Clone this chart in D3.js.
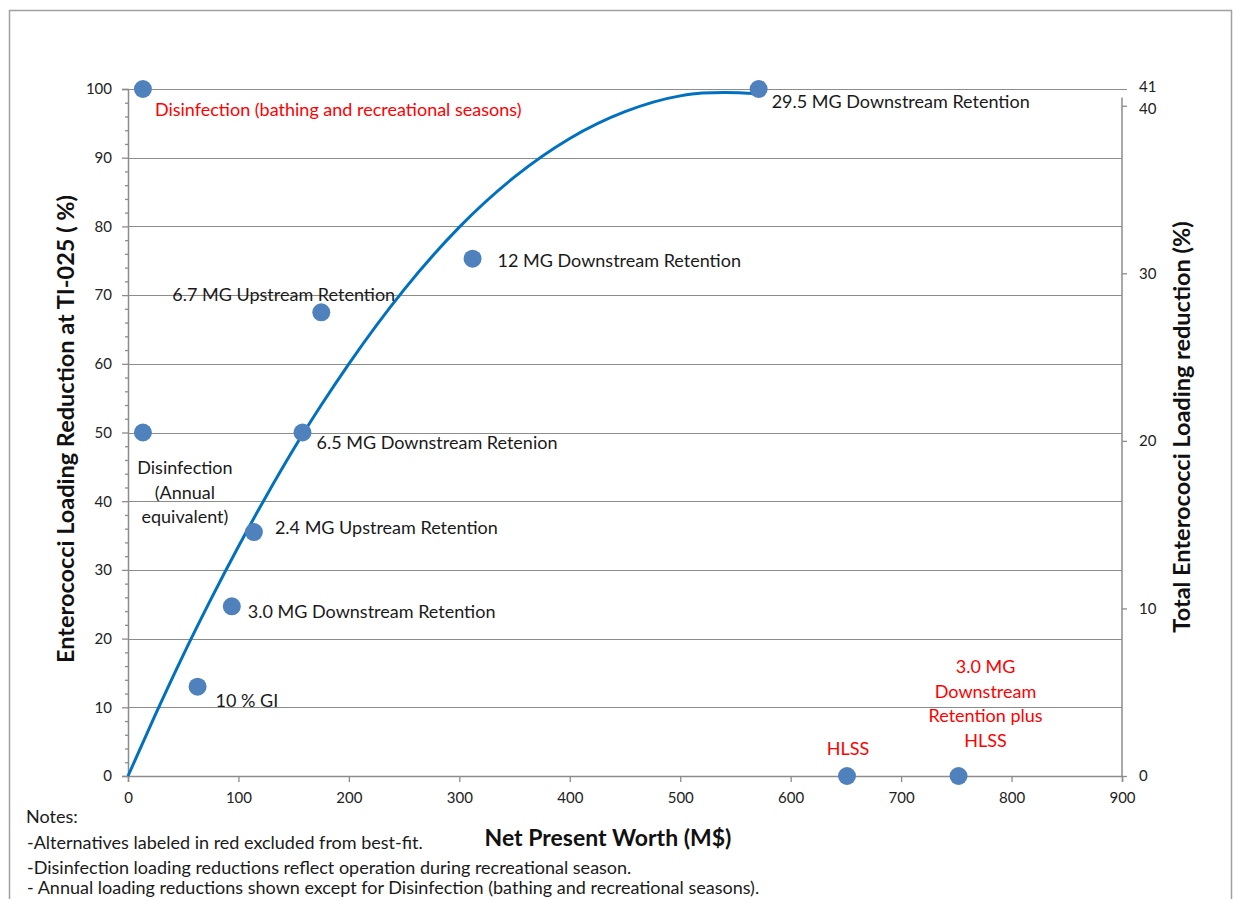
<!DOCTYPE html>
<html><head><meta charset="utf-8">
<script src="https://cdn.jsdelivr.net/npm/d3@7"></script>
<style>
body{margin:0;background:#fff;}
text{font-family:Lato, "Open Sans", sans-serif;}
</style></head>
<body><svg id="c" width="1241" height="899"></svg>
<script>
// ---- data ----
const pointNames = ["Disinfection (bathing  and recreational seasons)", "Disinfection (Annual equivalent)", "10 % GI", "3.0 MG Downstream Retention", "2.4 MG Upstream Retention", "6.5 MG Downstream Retenion", "6.7 MG Upstream Retention", "12 MG Downstream Retention", "29.5 MG Downstream Retention", "HLSS", "3.0 MG Downstream Retention plus HLSS"];
const pointX = [13.5, 13.5, 63, 94, 114, 158, 175, 312, 571, 651, 752];
const pointY = [100, 50, 13, 24.7, 35.5, 50, 67.5, 75.3, 100, 0, 0];
const excluded = [true, false, false, false, false, false, false, false, false, true, true];
// best-fit curve
const fitX = [0, 25, 50, 75, 100, 125, 150, 175, 200, 250, 300, 350, 400, 450, 500, 520, 540, 571];
const fitY = [0, 9.0, 17.6, 25.7, 33.4, 40.7, 47.6, 54.0, 60.0, 70.8, 79.9, 87.2, 92.8, 96.7, 99.0, 99.4, 99.5, 99.3];
const xTicks = [0, 100, 200, 300, 400, 500, 600, 700, 800, 900];
const yTicks = [0, 10, 20, 30, 40, 50, 60, 70, 80, 90, 100];
const y2Ticks = [0, 10, 20, 30, 40, 41];
const notes = ["Notes:", "-Alternatives labeled in red excluded from best-fit.", "-Disinfection loading reductions reflect operation during recreational season.", "- Annual loading reductions shown except for Disinfection (bathing and recreational seasons)."];

const svg = d3.select("#c");
const L = 128, R = 1122, T = 89, B = 776;
const x = d3.scaleLinear().domain([0, 900]).range([L, R]);
const y = d3.scaleLinear().domain([0, 100]).range([B, T]);
const y2 = d3.scaleLinear().domain([0, 41]).range([B, T]);
const grid = "#8c8c8c", tc = "#222";

// frame
svg.append("rect").attr("x", 9.5).attr("y", 10.5).attr("width", 1222).attr("height", 900)
  .attr("fill", "none").attr("stroke", "#a0a0a0").attr("stroke-width", 1.5);

// gridlines
svg.append("g").selectAll("line").data(yTicks.filter(d => d > 0)).join("line")
  .attr("x1", L).attr("x2", d => d === 100 ? R + 5 : R)
  .attr("y1", d => Math.round(y(d)) + 0.5).attr("y2", d => Math.round(y(d)) + 0.5)
  .attr("stroke", grid).attr("stroke-width", 1.2);

// left axis
const la = svg.append("g").attr("transform", `translate(${L},0)`)
  .call(d3.axisLeft(y).tickValues(yTicks).tickSize(6).tickPadding(10));
const lminor = svg.append("g").attr("transform", `translate(${L},0)`)
  .call(d3.axisLeft(y).tickValues(d3.range(0, 101, 2).filter(d => d % 10)).tickSize(3).tickFormat(""));
// bottom axis
const ba = svg.append("g").attr("transform", `translate(0,${B})`)
  .call(d3.axisBottom(x).tickValues(xTicks).tickSize(6).tickPadding(10));
// right axis
const ra = svg.append("g").attr("transform", `translate(${R},0)`)
  .call(d3.axisRight(y2).tickValues(y2Ticks).tickSize(5).tickPadding(12).tickSizeOuter(0));
ra.select(".domain").attr("d", `M0,${y2(0)}V${y2(40.5)}`);
[la, lminor, ba, ra].forEach(g => {
  g.selectAll(".domain").attr("stroke", grid).attr("stroke-width", 1.5);
  g.selectAll(".tick line").attr("stroke", grid).attr("stroke-width", 1.3);
  g.selectAll(".tick text").attr("fill", tc).style("font-size", "15px").style("font-family", "Lato, sans-serif");
});
ra.selectAll(".tick").filter(d => d === 41).select("text").attr("dy", "0.15em");
ra.selectAll(".tick").filter(d => d === 40).select("text").attr("dy", "0.5em");
ra.selectAll(".tick").filter(d => d === 41).select("line").remove();
lminor.select(".domain").remove();

// best-fit curve
const line = d3.line().x((d, i) => x(fitX[i])).y((d, i) => y(fitY[i])).curve(d3.curveMonotoneX);
svg.append("path").datum(fitY).attr("d", line).attr("fill", "none")
  .attr("stroke", "#0070c0").attr("stroke-width", 3);

// points
svg.append("g").selectAll("circle").data(pointX).join("circle")
  .attr("cx", d => x(d)).attr("cy", (d, i) => y(pointY[i])).attr("r", 9)
  .attr("fill", "#4f81bd");

// labels
const lab = [
  {i: 0, dx: 12, dy: 16, a: "start", lines: [pointNames[0]]},
  {i: 1, dx: 42, dy: 31, a: "middle", lines: ["Disinfection", "(Annual", "equivalent)"]},
  {i: 2, dx: 18, dy: 9, a: "start", lines: [pointNames[2]]},
  {i: 3, dx: 16, dy: 1, a: "start", lines: [pointNames[3]]},
  {i: 4, dx: 21, dy: -9, a: "start", lines: [pointNames[4]]},
  {i: 5, dx: 14, dy: 6, a: "start", lines: [pointNames[5]]},
  {i: 6, dx: -149, dy: -22, a: "start", lines: [pointNames[6]]},
  {i: 7, dx: 25, dy: -3, a: "start", lines: [pointNames[7]]},
  {i: 8, dx: 13, dy: 8, a: "start", lines: [pointNames[8]]},
  {i: 9, dx: 1, dy: -32, a: "middle", lines: ["HLSS"]},
  {i: 10, dx: 27, dy: -114, a: "middle", lines: ["3.0 MG", "Downstream", "Retention plus", "HLSS"]}
];
const lh = [0, 24.5, 0, 0, 0, 0, 0, 0, 0, 0, 24.8];
lab.forEach(o => {
  const t = svg.append("text").attr("text-anchor", o.a)
    .attr("fill", excluded[o.i] ? "#ff0000" : "#1a1a1a").style("font-size", "18px")
    .attr("transform", `translate(${x(pointX[o.i]) + o.dx},${y(pointY[o.i]) + o.dy})`);
  o.lines.forEach((s, k) => t.append("tspan").attr("x", 0).attr("y", k * lh[o.i]).attr("dy", "0.6em").text(s));
});

// axis titles
svg.append("text").attr("transform", `translate(74,429) rotate(-90)`)
  .attr("text-anchor", "middle").style("font-size", "23.5px").style("font-weight", "bold").attr("fill", "#111")
  .text("Enterococci Loading Reduction at TI-025 ( %)");
svg.append("text").attr("transform", `translate(1190,427) rotate(-90)`)
  .attr("text-anchor", "middle").style("font-size", "23.5px").style("font-weight", "bold").attr("fill", "#111")
  .text("Total Enterococci Loading reduction (%)");
svg.append("text").attr("x", 608).attr("y", 846).attr("text-anchor", "middle")
  .style("font-size", "23px").style("font-weight", "bold").attr("fill", "#111")
  .text("Net Present Worth (M$)");

// notes
svg.append("g").selectAll("text").data(notes).join("text")
  .attr("x", (d, i) => i === 0 ? 26 : 27).attr("y", (d, i) => [823, 849, 874, 894][i])
  .style("font-size", "18px").attr("fill", "#1a1a1a").text(d => d);
</script></body></html>
